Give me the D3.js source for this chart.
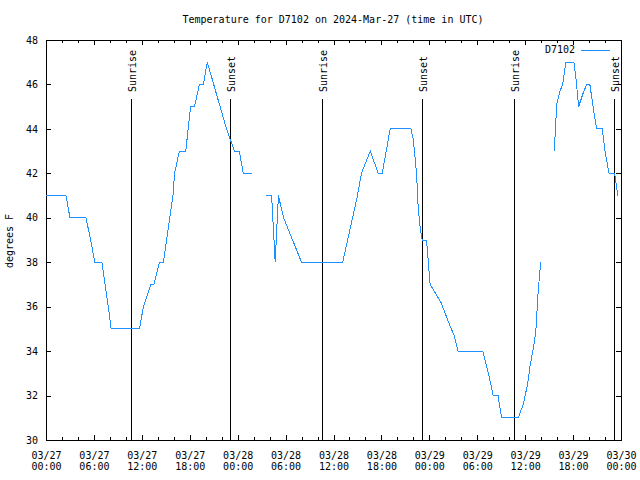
<!DOCTYPE html>
<html><head><meta charset="utf-8">
<script src="https://cdn.jsdelivr.net/npm/d3@7"></script>
<style>
body{margin:0;background:#fff;}
text{font-family:"DejaVu Sans Mono",monospace;font-size:10px;fill:#000;}
</style></head>
<body><svg id="c" width="640" height="480"></svg>
<script>
const title = "Temperature for D7102 on 2024-Mar-27 (time in UTC)";
const seriesName = "D7102";
const yLabel = "degrees F";
const times = [
"2024-03-27T00:00Z","2024-03-27T02:30Z","2024-03-27T03:00Z","2024-03-27T05:00Z","2024-03-27T05:36Z",
"2024-03-27T06:06Z","2024-03-27T07:00Z","2024-03-27T07:24Z","2024-03-27T07:48Z","2024-03-27T08:09Z",
"2024-03-27T11:42Z","2024-03-27T12:12Z","2024-03-27T13:09Z","2024-03-27T13:30Z","2024-03-27T14:12Z",
"2024-03-27T14:42Z","2024-03-27T15:06Z","2024-03-27T15:30Z","2024-03-27T15:54Z","2024-03-27T16:06Z",
"2024-03-27T16:42Z","2024-03-27T17:30Z","2024-03-27T17:48Z","2024-03-27T18:06Z","2024-03-27T18:36Z",
"2024-03-27T19:12Z","2024-03-27T19:42Z","2024-03-27T20:12Z","2024-03-27T21:00Z","2024-03-27T21:48Z",
"2024-03-27T22:36Z","2024-03-27T23:36Z","2024-03-28T00:12Z","2024-03-28T00:42Z","2024-03-28T01:45Z",
"2024-03-28T02:30Z",
"2024-03-28T03:33Z","2024-03-28T04:15Z","2024-03-28T04:42Z","2024-03-28T05:06Z","2024-03-28T05:45Z","2024-03-28T08:00Z",
"2024-03-28T13:09Z","2024-03-28T15:00Z","2024-03-28T15:30Z","2024-03-28T16:36Z","2024-03-28T17:36Z",
"2024-03-28T18:06Z","2024-03-28T19:06Z","2024-03-28T21:42Z","2024-03-28T22:00Z","2024-03-28T22:24Z",
"2024-03-28T22:36Z","2024-03-28T22:48Z","2024-03-28T23:06Z","2024-03-28T23:39Z","2024-03-29T00:06Z",
"2024-03-29T01:27Z","2024-03-29T02:18Z","2024-03-29T03:06Z","2024-03-29T03:36Z","2024-03-29T06:42Z",
"2024-03-29T07:24Z","2024-03-29T08:00Z","2024-03-29T08:36Z","2024-03-29T09:03Z","2024-03-29T11:09Z",
"2024-03-29T11:45Z","2024-03-29T12:18Z","2024-03-29T12:36Z","2024-03-29T13:09Z","2024-03-29T13:21Z",
"2024-03-29T13:39Z","2024-03-29T13:57Z",
"2024-03-29T14:48Z",
"2024-03-29T15:39Z","2024-03-29T15:57Z","2024-03-29T16:21Z","2024-03-29T16:42Z","2024-03-29T17:06Z",
"2024-03-29T18:06Z","2024-03-29T18:21Z","2024-03-29T18:42Z","2024-03-29T19:15Z","2024-03-29T19:42Z",
"2024-03-29T20:06Z","2024-03-29T20:30Z","2024-03-29T20:57Z","2024-03-29T21:39Z","2024-03-29T22:00Z",
"2024-03-29T22:30Z","2024-03-29T23:12Z","2024-03-29T23:36Z"
];
const temps = [
41,41,40,40,39,
38,38,37,36,35,
35,36,37,37,38,
38,39,40,41,42,
43,43,44,45,45,
46,46,47,46,45,
44,43,43,42,42,
null,
41,41,38,41,40,38,
38,41,42,43,42,
42,44,44,43.5,42,
40.5,39.7,39,39,37,
36.2,35.4,34.7,34,34,
33,32,32,31,31,
31.6,32.5,33.3,34.4,35,
36.8,38,
null,
43,45.1,45.7,46,47,
47,46.3,45,45.6,46,
46,45,44,44,43,
42,42,41
];
const sunEvents = ["Sunrise","Sunset","Sunrise","Sunset","Sunrise","Sunset"];
const sunTimes = ["2024-03-27T10:38Z","2024-03-27T23:05Z","2024-03-28T10:36Z","2024-03-28T23:06Z","2024-03-29T10:34Z","2024-03-29T23:07Z"];
const yTicks = [30,32,34,36,38,40,42,44,46,48];

const svg = d3.select("#c");
const L=46, R=621, T=40, B=440;
const x = d3.scaleUtc().domain([new Date("2024-03-27T00:00Z"), new Date("2024-03-30T00:00Z")]).range([L,R]);
const y = d3.scaleLinear().domain([30,48]).range([B,T]);
const color = "#1e90ff";

svg.append("text").attr("x",333).attr("y",23).attr("text-anchor","middle").text(title);

const majorTicks = d3.utcHour.every(6).range(new Date("2024-03-27T00:00Z"), new Date("2024-03-30T00:01Z"));
const minorTicks = d3.utcHour.every(2).range(new Date("2024-03-27T00:00Z"), new Date("2024-03-30T00:01Z"));
const fmtD = d3.utcFormat("%m/%d"), fmtT = d3.utcFormat("%H:%M");

svg.append("g").attr("transform",`translate(0,${B})`)
  .call(d3.axisBottom(x).tickValues(minorTicks).tickSizeInner(-3).tickSizeOuter(0).tickFormat(""));
svg.append("g").attr("transform",`translate(0,${T})`)
  .call(d3.axisTop(x).tickValues(minorTicks).tickSizeInner(-3).tickSizeOuter(0).tickFormat(""));
const gB = svg.append("g").attr("transform",`translate(0,${B})`)
  .call(d3.axisBottom(x).tickValues(majorTicks).tickSizeInner(-5).tickSizeOuter(0).tickPadding(0).tickFormat(""));
gB.selectAll(".tick").each(function(d){
  const t = d3.select(this).append("text").attr("text-anchor","middle").attr("fill","#000");
  t.append("tspan").attr("x",0).attr("y",19).text(fmtD(d));
  t.append("tspan").attr("x",0).attr("y",30).text(fmtT(d));
});
svg.append("g").attr("transform",`translate(0,${T})`)
  .call(d3.axisTop(x).tickValues(majorTicks).tickSizeInner(-5).tickSizeOuter(0).tickFormat(""));
const gL = svg.append("g").attr("transform",`translate(${L},0)`)
  .call(d3.axisLeft(y).tickValues(yTicks).tickSizeInner(-5).tickSizeOuter(0).tickPadding(8).tickFormat(d3.format("d")));
svg.append("g").attr("transform",`translate(${R},0)`)
  .call(d3.axisRight(y).tickValues(yTicks).tickSizeInner(-5).tickSizeOuter(0).tickFormat(""));
svg.selectAll(".domain").remove();
svg.selectAll(".tick line").attr("stroke","#000").attr("shape-rendering","crispEdges");
gL.selectAll("text").attr("font-family","'DejaVu Sans Mono',monospace").attr("font-size",10).attr("fill","#000");

svg.append("rect").attr("x",L).attr("y",T).attr("width",R-L).attr("height",B-T)
  .attr("fill","none").attr("stroke","#000").attr("shape-rendering","crispEdges");

svg.append("text").attr("transform",`translate(13,241) rotate(-90)`).attr("text-anchor","middle").text(yLabel);

const sun = sunTimes.map((t,i)=>({t:new Date(t), label:sunEvents[i]}));
svg.selectAll(".sunl").data(sun).enter().append("line")
  .attr("x1",d=>Math.round(x(d.t))+0.5).attr("x2",d=>Math.round(x(d.t))+0.5)
  .attr("y1",99).attr("y2",B).attr("stroke","#000").attr("stroke-width",1);
svg.selectAll(".sunt").data(sun).enter().append("text")
  .attr("transform",d=>`translate(${Math.round(x(d.t))+5},92) rotate(-90)`)
  .attr("text-anchor","start").text(d=>d.label);

const data = times.map((t,i)=>({t:new Date(t), v:temps[i]}));
const line = d3.line().defined(d=>d.v!==null).x(d=>x(d.t)).y(d=>y(d.v));
svg.append("path").datum(data).attr("d",line).attr("fill","none").attr("stroke",color)
  .attr("stroke-width",1).attr("shape-rendering","crispEdges");

svg.append("text").attr("x",575).attr("y",53).attr("text-anchor","end").text(seriesName);
svg.append("line").attr("x1",581).attr("x2",610).attr("y1",50.5).attr("y2",50.5).attr("stroke",color)
  .attr("shape-rendering","crispEdges");
</script></body></html>
